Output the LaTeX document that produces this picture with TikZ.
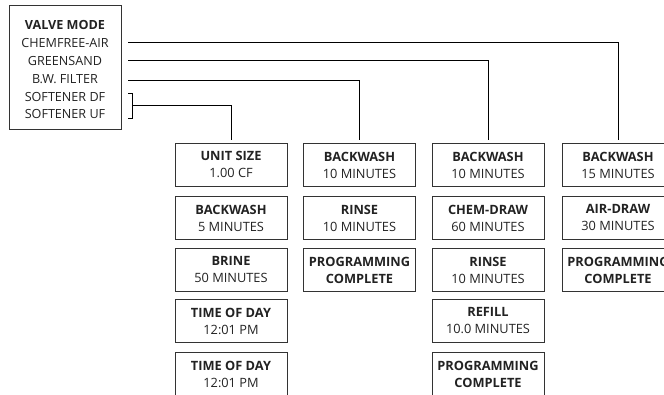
\documentclass[tikz,border=0pt]{standalone}
\usepackage{fontspec}
\setmainfont{Open Sans}
\definecolor{ink}{HTML}{222222}
\definecolor{edge}{HTML}{333333}
\begin{document}
\begin{tikzpicture}[x=1pt,y=-1pt,
  every node/.style={text=ink, inner sep=0pt, font=\fontsize{12.8}{17}\selectfont},
  stepbox/.style={draw=edge, line width=0.9pt, minimum width=112pt, minimum height=43pt, anchor=north, align=center},
  vline/.style={font=\fontsize{12.6}{14}\selectfont},
  conn/.style={draw=black, line width=0.8pt}]
\useasboundingbox (0,0) rectangle (664,394);
\clip (0,0) rectangle (664,394);
% valve mode box
\node[draw=edge, line width=0.9pt, minimum width=112pt, minimum height=124pt, anchor=north west] (vm) at (9,5) {};
\node[vline] (t0) at (65,24.5) {\textbf{VALVE MODE}};
\node[vline] (t1) at (65,43) {CHEMFREE-AIR};
\node[vline] (t2) at (65,61) {GREENSAND};
\node[vline] (t3) at (65,79) {B.W. FILTER};
\node[vline] (t4) at (65,96.5) {SOFTENER DF};
\node[vline] (t5) at (65,113.5) {SOFTENER UF};
% column 1
\node[stepbox] (a1) at (231,143) {\textbf{UNIT SIZE}\\1.00 CF};
\node[stepbox] (a2) at (231,196) {\textbf{BACKWASH}\\5 MINUTES};
\node[stepbox] (a3) at (231,248) {\textbf{BRINE}\\50 MINUTES};
\node[stepbox] (a4) at (231,299) {\textbf{TIME OF DAY}\\12:01 PM};
\node[stepbox] (a5) at (231,352) {\textbf{TIME OF DAY}\\12:01 PM};
% column 2
\node[stepbox] (b1) at (359.5,143) {\textbf{BACKWASH}\\10 MINUTES};
\node[stepbox] (b2) at (359.5,196) {\textbf{RINSE}\\10 MINUTES};
\node[stepbox] (b3) at (359.5,248) {\textbf{PROGRAMMING}\\\textbf{COMPLETE}};
% column 3
\node[stepbox] (c1) at (488,143) {\textbf{BACKWASH}\\10 MINUTES};
\node[stepbox] (c2) at (488,196) {\textbf{CHEM-DRAW}\\60 MINUTES};
\node[stepbox] (c3) at (488,248) {\textbf{RINSE}\\10 MINUTES};
\node[stepbox] (c4) at (488,299) {\textbf{REFILL}\\10.0 MINUTES};
\node[stepbox] (c5) at (488,352) {\textbf{PROGRAMMING}\\\textbf{COMPLETE}};
% column 4
\node[stepbox] (d1) at (618,143) {\textbf{BACKWASH}\\15 MINUTES};
\node[stepbox] (d2) at (618,196) {\textbf{AIR-DRAW}\\30 MINUTES};
\node[stepbox] (d3) at (618,248) {\textbf{PROGRAMMING}\\\textbf{COMPLETE}};
% connectors
\coordinate (s1) at (128,42);
\coordinate (s2) at (128,60);
\coordinate (s3) at (128,80);
\coordinate (bt) at (128,93);
\coordinate (bb) at (128,118);
\coordinate (bm) at (132,105.5);
\draw[conn] (s1) -| ([yshift=3.5pt]d1.north);
\draw[conn] (s2) -| ([yshift=3.5pt]c1.north);
\draw[conn] (s3) -| ([yshift=3.5pt]b1.north);
\draw[conn] (bt) -- (bt -| bm) -- (bb -| bm) -- (bb);
\draw[conn] (bm) -| ([yshift=3.5pt]a1.north);
\end{tikzpicture}
\end{document}
